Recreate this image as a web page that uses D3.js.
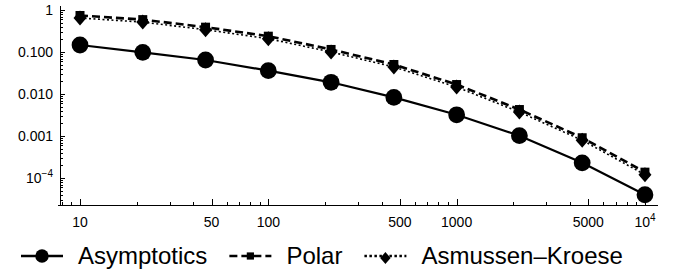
<!DOCTYPE html>
<html>
<head>
<meta charset="utf-8">
<script src="https://cdn.jsdelivr.net/npm/d3@7"></script>
<style>
  body { margin: 0; background: #fff; }
  svg { display: block; font-family: 'Liberation Sans', Arial, sans-serif; }
</style>
</head>
<body>
<div id="chart"></div>
<script>
// x values: 10^(1 + k/3)
const xValues = [10, 21.54, 46.42, 100, 215.4, 464.2, 1000, 2154, 4642, 10000];
const asymptotics = [0.147, 0.098, 0.0645, 0.036, 0.019, 0.0083, 0.0032, 0.00102, 0.00023, 0.000040];
const polar = [0.74, 0.59, 0.39, 0.238, 0.115, 0.0504, 0.0168, 0.00427, 0.00091, 0.000138];
const asmussenKroese = [0.645, 0.515, 0.34, 0.2075, 0.1003, 0.044, 0.01465, 0.00372, 0.000794, 0.00012];

const seriesNames = ['Asymptotics', 'Polar', 'Asmussen\u2013Kroese'];
const xTickLabels = [[10, '10'], [50, '50'], [100, '100'], [500, '500'], [1000, '1000'], [5000, '5000'], [10000, '10', '4']];
const yTickLabels = [[1, '1'], [0.1, '0.100'], [0.01, '0.010'], [0.001, '0.001'], [0.0001, '10', '\u22124']];

const width = 674, height = 273;
const svg = d3.select('#chart').append('svg')
  .attr('width', width)
  .attr('height', height);

const x = d3.scaleLog().domain([7.83, 11730]).range([60, 658]);
const y = d3.scaleLog().domain([2.28e-5, 1.245]).range([205, 6]);

const x0 = x.range()[0], yBase = y.range()[0];

// ticks
function logTicks(lo, hi) {
  const out = [];
  for (let e = Math.floor(Math.log10(lo)); e <= Math.ceil(Math.log10(hi)); e++) {
    for (let m = 1; m <= 9; m++) {
      const v = m * Math.pow(10, e);
      if (v >= lo && v <= hi) out.push(v);
    }
  }
  return out;
}
const xMajor = xTickLabels.map((d) => d[0]);
const yMajor = yTickLabels.map((d) => d[0]);
const near = (a, b) => Math.abs(a / b - 1) < 1e-6;

const axes = svg.append('g').attr('stroke', '#000').attr('shape-rendering', 'crispEdges');
axes.append('line').attr('x1', x0).attr('x2', x0).attr('y1', y.range()[1]).attr('y2', yBase);
axes.append('line').attr('x1', x0 - 2).attr('x2', x.range()[1]).attr('y1', yBase).attr('y2', yBase);

axes.selectAll('.xt')
  .data(logTicks(...x.domain()))
  .join('line')
  .attr('x1', (d) => Math.round(x(d)) + 0.5)
  .attr('x2', (d) => Math.round(x(d)) + 0.5)
  .attr('y1', yBase)
  .attr('y2', (d) => yBase - (xMajor.some((m) => near(m, d)) ? 6 : 3));

axes.selectAll('.yt')
  .data(logTicks(...y.domain()))
  .join('line')
  .attr('y1', (d) => Math.round(y(d)) + 0.5)
  .attr('y2', (d) => Math.round(y(d)) + 0.5)
  .attr('x1', x0)
  .attr('x2', (d) => x0 + (yMajor.some((m) => near(m, d)) ? 5 : 3));

// tick labels
const xl = svg.append('g').attr('font-size', 14).attr('fill', '#000');
xTickLabels.forEach((d) => {
  const t = xl.append('text')
    .attr('x', x(d[0]))
    .attr('y', 227)
    .attr('text-anchor', 'middle');
  t.append('tspan').text(d[1]);
  if (d[2]) t.append('tspan').attr('dy', -6).attr('font-size', 10).text(d[2]);
});

const yl = svg.append('g').attr('font-size', 14).attr('fill', '#000');
yTickLabels.forEach((d) => {
  const t = yl.append('text')
    .attr('x', 53)
    .attr('y', y(d[0]) + 5)
    .attr('text-anchor', 'end');
  t.append('tspan').text(d[1]);
  if (d[2]) t.append('tspan').attr('dy', -6).attr('font-size', 10).text(d[2]);
});

// series
const line = d3.line().x((d) => x(d[0])).y((d) => y(d[1]));
const series = [
  {name: seriesNames[0], values: asymptotics, dash: null, width: 2.2, marker: 'circle'},
  {name: seriesNames[1], values: polar, dash: '8,4', width: 2.6, marker: 'square'},
  {name: seriesNames[2], values: asmussenKroese, dash: '2,2.5', width: 1.6, marker: 'diamond'},
];

function drawMarker(g, type, cx, cy, scale) {
  if (type === 'circle') {
    g.append('circle').attr('cx', cx).attr('cy', cy).attr('r', 8.4 * scale);
  } else if (type === 'square') {
    const s = 9 * scale;
    g.append('rect').attr('x', cx - s / 2).attr('y', cy - s / 2).attr('width', s).attr('height', s);
  } else {
    const w = 6.5 * scale, h = 7.5 * scale;
    g.append('path').attr('d', `M${cx},${cy - h}L${cx + w},${cy}L${cx},${cy + h}L${cx - w},${cy}Z`);
  }
}

const plot = svg.append('g');
series.slice().reverse().forEach((s) => {
  const pts = xValues.map((v, i) => [v, s.values[i]]);
  plot.append('path')
    .attr('fill', 'none')
    .attr('stroke', '#000')
    .attr('stroke-width', s.width)
    .attr('stroke-dasharray', s.dash)
    .attr('d', line(pts));
  const mg = plot.append('g').attr('fill', '#000');
  pts.forEach((p) => drawMarker(mg, s.marker, x(p[0]), y(p[1]), 1));
});

// legend
const legend = svg.append('g').attr('font-size', 24).attr('fill', '#000');
let lx = 21;
const ly = 256;
series.forEach((s) => {
  legend.append('line')
    .attr('x1', lx).attr('x2', lx + 42)
    .attr('y1', ly).attr('y2', ly)
    .attr('stroke', '#000')
    .attr('stroke-width', 2.4)
    .attr('stroke-dasharray', s.dash === '2,2.5' ? '2.5,2.5' : s.dash);
  const mg = legend.append('g');
  drawMarker(mg, s.marker, lx + 21, s.marker === 'diamond' ? ly + 2 : ly, 0.8);
  const t = legend.append('text')
    .attr('x', lx + 57)
    .attr('y', ly + 8)
    .text(s.name);
  lx += 57 + t.node().getComputedTextLength() + 22;
});
</script>
</body>
</html>
